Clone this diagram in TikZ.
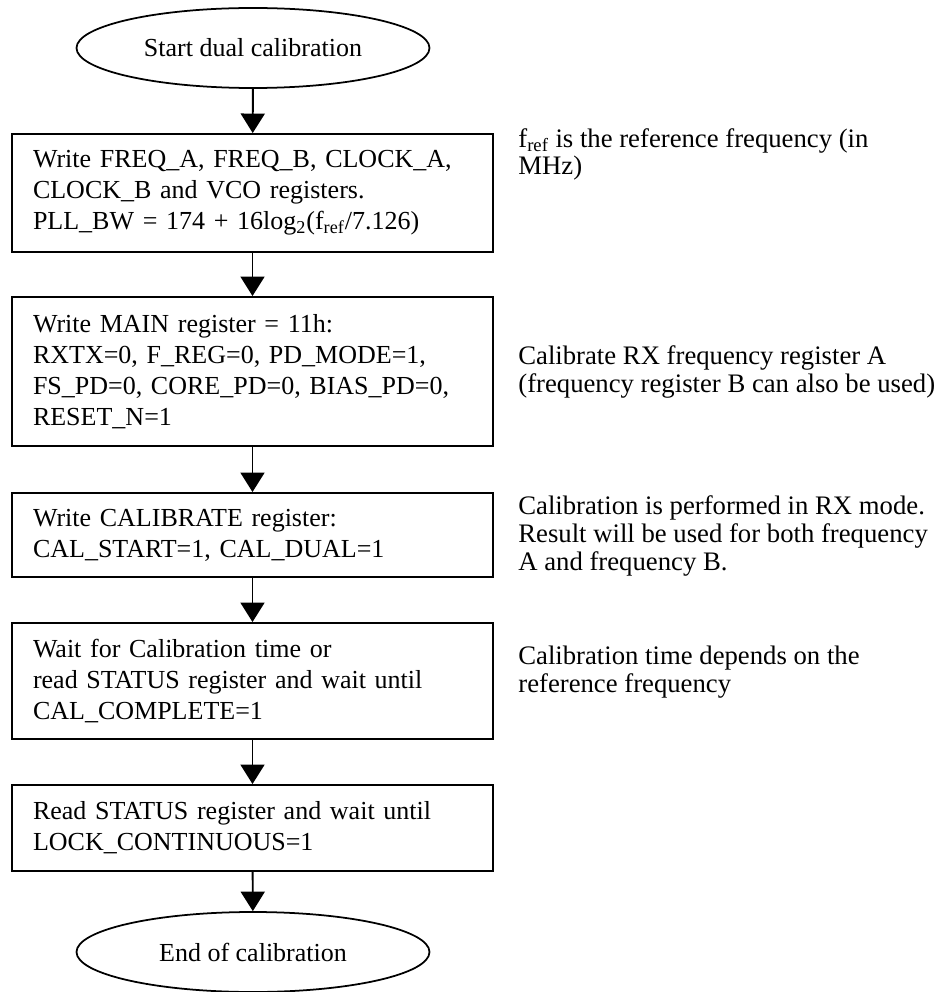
\documentclass[tikz,border=0pt]{standalone}
\usepackage{fontspec}
\setmainfont{Liberation Serif}
\usetikzlibrary{arrows.meta,shapes.geometric}

\begin{document}
\begin{tikzpicture}[
        flowfont/.style={font=\fontsize{14.8}{17.6}\selectfont},
        endpoint/.style={draw, ellipse, line width=1pt, minimum width=7.06cm, minimum height=1.6cm, inner sep=0pt, flowfont},
        stepbox/.style={draw, line width=1.1pt, minimum width=9.62cm, text width=8.78cm, align=left, inner xsep=0.42cm, inner ysep=0pt, flowfont},
        note/.style={anchor=base west, align=left, inner sep=0pt, font=\fontsize{15.2}{15.9}\selectfont},
        arr/.style={line width=1.1pt, -{Triangle[length=0.39cm,width=0.48cm]}}
    ]
        % Page size
        \useasboundingbox (0,0) rectangle (18.86,-19.84);

        % Start of the flow
        \node[endpoint] (start) at (5.06,-0.96) {Start dual calibration};

        % Steps
        \node[stepbox, minimum height=2.36cm] (freq) at (5.05,-3.86)
            {Write FREQ\_A, FREQ\_B, CLOCK\_A,\\
             CLOCK\_B and VCO registers.\\
             PLL\_BW = 174 + 16log\textsubscript{2}(f\textsubscript{ref}/7.126)};
        \node[stepbox, minimum height=2.98cm] (main) at (5.05,-7.43)
            {Write MAIN register = 11h:\\
             RXTX=0, F\_REG=0, PD\_MODE=1,\\
             FS\_PD=0, CORE\_PD=0, BIAS\_PD=0,\\
             RESET\_N=1};
        \node[stepbox, minimum height=1.68cm] (cal) at (5.05,-10.70)
            {Write CALIBRATE register:\\
             CAL\_START=1, CAL\_DUAL=1};
        \node[stepbox, minimum height=2.32cm] (wait) at (5.05,-13.62)
            {Wait for Calibration time or\\
             read STATUS register and wait until\\
             CAL\_COMPLETE=1};
        \node[stepbox, minimum height=1.72cm] (lock) at (5.05,-16.56)
            {Read STATUS register and wait until\\
             LOCK\_CONTINUOUS=1};

        % End of the flow
        \node[endpoint] (stop) at (5.06,-19.04) {End of calibration};

        % Arrows
        \draw[arr] (start) -- (freq);
        \draw[arr] (freq) -- (main);
        \draw[arr] (main) -- (cal);
        \draw[arr] (cal) -- (wait);
        \draw[arr] (wait) -- (lock);
        \draw[arr] (lock) -- (stop);

        % Notes on the right (anchored at the last line)
        \node[note] (notefreq) at (10.36,-3.50)
            {f\textsubscript{ref} is the reference frequency (in\\ MHz)};
        \node[note] (notemain) at (10.36,-7.84)
            {Calibrate RX frequency register A\\
             (frequency register B can also be used)};
        \node[note] (notecal) at (10.36,-11.40)
            {Calibration is performed in RX mode.\\
             Result will be used for both frequency\\
             A and frequency B.};
        \node[note] (notewait) at (10.36,-13.84)
            {Calibration time depends on the\\
             reference frequency};
    \end{tikzpicture}
\end{document}
